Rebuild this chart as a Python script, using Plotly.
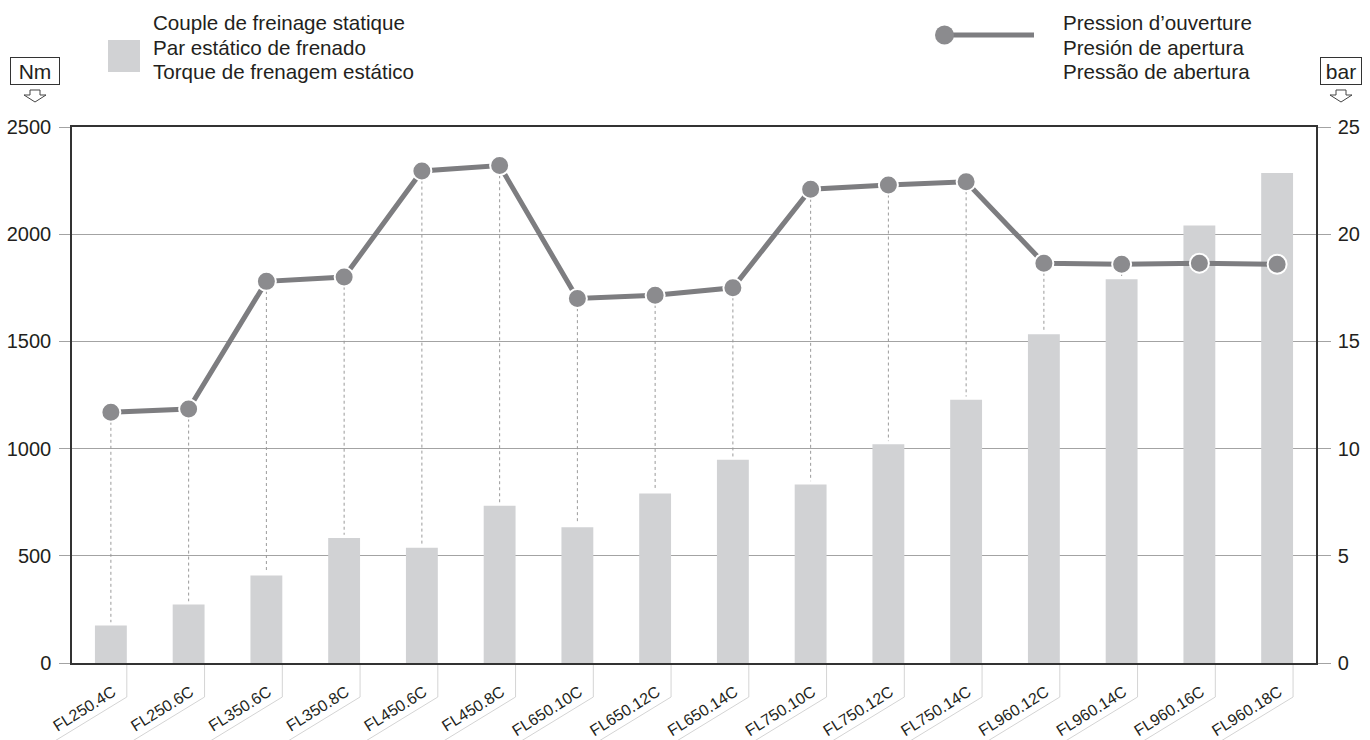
import plotly.graph_objects as go

models = ["FL250.4C", "FL250.6C", "FL350.6C", "FL350.8C", "FL450.6C", "FL450.8C",
          "FL650.10C", "FL650.12C", "FL650.14C", "FL750.10C", "FL750.12C", "FL750.14C",
          "FL960.12C", "FL960.14C", "FL960.16C", "FL960.18C"]
torque_nm = [175, 273, 408, 583, 538, 733, 633, 790, 948, 833, 1020, 1228,
             1533, 1790, 2040, 2285]
pressure_bar = [11.7, 11.85, 17.8, 18.0, 22.95, 23.2, 17.0, 17.15, 17.5, 22.1, 22.3, 22.45,
                18.65, 18.6, 18.65, 18.6]

legend_torque = ["Couple de freinage statique", "Par estático de frenado", "Torque de frenagem estático"]
legend_pressure = ["Pression d\u2019ouverture", "Presión de apertura", "Pressão de abertura"]

FONT = "Liberation Sans, Arial, sans-serif"
TXT = "#231f20"
BAR_C = "#d1d2d4"
LINE_C = "#7d7d80"
MARK_C = "#8b8b8e"
GRID_C = "#a3a3a3"

W, H = 1370, 740
# plot area in screen pixels
SX0, SX1, SY0, SY1 = 72, 1316, 127, 663
L, R, T, B = SX0, W - SX1, SY0, H - SY1
PW, PH = SX1 - SX0, SY1 - SY0


def px(x):
    return (x - SX0) / PW


def py(y):
    return (SY1 - y) / PH


x_idx = list(range(len(models)))

fig = go.Figure()
fig.add_trace(go.Bar(x=x_idx, y=torque_nm, width=0.41, marker=dict(color=BAR_C, line=dict(width=0)),
                     yaxis="y", showlegend=False, hoverinfo="y"))

# dotted guide lines from each marker down to bar top (only where the marker is above the bar)
gx, gy = [], []
for i, (t, p) in enumerate(zip(torque_nm, pressure_bar)):
    if t / 100.0 < p - 0.6:
        gx += [i, i, None]
        gy += [p - 0.45, t / 100.0 + 0.15, None]
fig.add_trace(go.Scatter(x=gx, y=gy, mode="lines", yaxis="y2", showlegend=False, hoverinfo="skip",
                         line=dict(color="#9a9a9a", width=1, dash="dot")))

fig.add_trace(go.Scatter(x=x_idx, y=pressure_bar, mode="lines+markers", yaxis="y2", showlegend=False,
                         line=dict(color=LINE_C, width=5),
                         marker=dict(size=19, color=MARK_C, line=dict(color="white", width=2))))

shapes = []
annotations = []

# leader lines under the category labels
for i in x_idx:
    xa = (i + 0.205 + 0.5) / len(models)
    shapes.append(dict(type="line", xref="paper", yref="paper", xsizemode="pixel", ysizemode="pixel",
                       xanchor=xa, yanchor=0, x0=0, x1=0, y0=-2, y1=-34,
                       line=dict(color="#d4d4d4", width=1), layer="above"))
    shapes.append(dict(type="line", xref="paper", yref="paper", xsizemode="pixel", ysizemode="pixel",
                       xanchor=xa, yanchor=0, x0=0, x1=-95, y0=-34, y1=-92,
                       line=dict(color="#d4d4d4", width=1), layer="above"))

# left legend
shapes.append(dict(type="rect", xref="paper", yref="paper", x0=px(108), x1=px(140), y0=py(72), y1=py(40),
                   fillcolor=BAR_C, line=dict(width=0)))
for k, txt in enumerate(legend_torque):
    annotations.append(dict(text=txt, xref="paper", yref="paper", x=px(151), y=py(22 + 25 * k),
                            xanchor="left", yanchor="middle", showarrow=False,
                            font=dict(family=FONT, size=20.6, color=TXT)))
# right legend
shapes.append(dict(type="line", xref="paper", yref="paper", x0=px(945), x1=px(1034), y0=py(35), y1=py(35),
                   line=dict(color=LINE_C, width=5)))
shapes.append(dict(type="circle", xref="paper", yref="paper", x0=px(935), x1=px(954), y0=py(44.5), y1=py(25.5),
                   fillcolor=MARK_C, line=dict(width=0)))
for k, txt in enumerate(legend_pressure):
    annotations.append(dict(text=txt, xref="paper", yref="paper", x=px(1061), y=py(22 + 25 * k),
                            xanchor="left", yanchor="middle", showarrow=False,
                            font=dict(family=FONT, size=20.6, color=TXT)))

# unit boxes with hollow down arrows
for unit, cx, bw in (("Nm", 35, 44), ("bar", 1341, 36)):
    annotations.append(dict(text=unit, xref="paper", yref="paper", x=px(cx), y=py(71.5),
                            xanchor="center", yanchor="middle", showarrow=False, width=bw, height=22,
                            font=dict(family=FONT, size=21, color=TXT),
                            bordercolor="#333333", borderwidth=1, borderpad=2, bgcolor="white"))
    pts = [(cx - 5, 90), (cx + 5, 90), (cx + 5, 95), (cx + 11, 95), (cx, 102), (cx - 11, 95), (cx - 5, 95)]
    path = "M " + " L ".join(f"{px(a):.5f},{py(b):.5f}" for a, b in pts) + " Z"
    shapes.append(dict(type="path", xref="paper", yref="paper", path=path,
                       fillcolor="white", line=dict(color="#444444", width=1)))

fig.update_layout(
    width=W, height=H,
    margin=dict(l=L, r=R, t=T, b=B),
    paper_bgcolor="white", plot_bgcolor="white",
    font=dict(family=FONT, color=TXT),
    bargap=0.5,
    xaxis=dict(range=[-0.5, len(models) - 0.5], tickmode="array", tickvals=x_idx, ticktext=models,
               tickangle=-32, tickfont=dict(size=16, color=TXT), ticks="",
               showline=True, linecolor="#333333", linewidth=1.5, mirror=True, automargin=False,
               showgrid=False, zeroline=False, ticklabelstandoff=12, ticklabelshift=2),
    yaxis=dict(range=[0, 2500], tickvals=[0, 500, 1000, 1500, 2000, 2500], automargin=False,
               tickfont=dict(size=20, color=TXT), ticks="outside", ticklen=11, tickcolor=GRID_C,
               showline=True, linecolor="#333333", linewidth=1.5,
               showgrid=True, gridcolor=GRID_C, gridwidth=1, zeroline=False, ticklabelstandoff=4),
    yaxis2=dict(range=[0, 25], tickvals=[0, 5, 10, 15, 20, 25], overlaying="y", side="right",
                automargin=False,
                tickfont=dict(size=20, color=TXT), ticks="outside", ticklen=13, tickcolor=GRID_C,
                showline=True, linecolor="#333333", linewidth=1.5,
                showgrid=False, zeroline=False, ticklabelstandoff=3),
    shapes=shapes,
    annotations=annotations,
)

# remove the default 8px page margin so the 1370x740 figure fills the window exactly
fig.write_html("out.html", config={"displayModeBar": False},
               post_script="document.body.style.margin='0px';document.body.style.overflow='hidden';")
